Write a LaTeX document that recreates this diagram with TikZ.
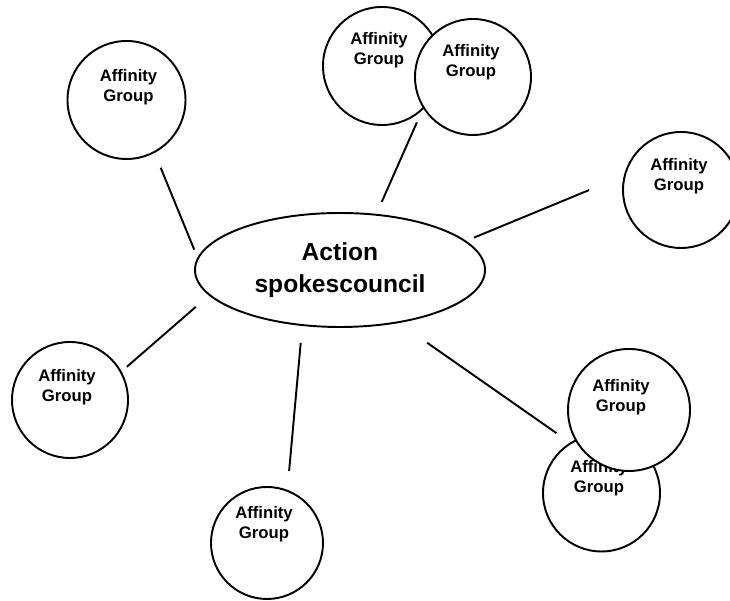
\documentclass[tikz,border=0pt]{standalone}
\usepackage{fontspec}
\setmainfont{Liberation Sans}
\usetikzlibrary{shapes.geometric}
\tikzset{
  council/.style={draw, ellipse, line width=1.1pt, minimum width=5.8cm, minimum height=2.28cm,
    align=center, font=\fontsize{14}{18}\selectfont\bfseries},
  affgroup/.style={draw, circle, fill=white, line width=1.1pt, minimum size=#1},
  affgroup/.default=2.34cm,
  grouptext/.style={align=center, font=\fontsize{9.5}{11.5}\selectfont\bfseries},
  spoke/.style={line width=1.1pt}
}
\begin{document}
\begin{tikzpicture}
				\clip (0,0) rectangle (14.6,12.02)
				;
				\node[council] (council) at (6.8,6.62) {Action\\spokescouncil}
				;
				% circles behind first, so g3 and g8 cover g2 and g7
				\foreach \n/\x/\y/\sz/\tx/\ty in {
					g1/2.53/10.02/2.36/2.57/10.28,
					g2/7.64/10.70/2.36/7.58/11.02,
					g3/9.46/10.48/2.32/9.42/10.77,
					g4/13.62/8.22/2.32/13.58/8.49,
					g5/1.40/4.02/2.32/1.34/4.28,
					g6/5.34/1.16/2.24/5.28/1.54,
					g7/12.03/2.16/2.34/11.98/2.46,
					g8/12.58/3.82/2.44/12.42/4.08}
				{
					\node[affgroup=\sz cm] (\n) at (\x,\y) {};
					\node[grouptext] (\n text) at (\tx,\ty) {Affinity\\Group};
				}
				;
				% spokes, free at both ends
				\draw[spoke, shorten <=0.17cm, shorten >=0.32cm] (council.175) -- (g1.298);
				\draw[spoke, shorten <=0.26cm, shorten >=0.26cm] (council.57) -- (g2.312);
				\draw[spoke, shorten <=0.17cm, shorten >=0.75cm] (council.13) -- (g4.166);
				\draw[spoke, shorten <=0.35cm, shorten >=0.14cm] (council.191) -- (g5.29);
				\draw[spoke, shorten <=0.34cm, shorten >=0.38cm] (council.236) -- (g6.69);
				\draw[spoke, shorten <=0.69cm, shorten >=0.33cm] (council.318) -- (g7.122);
		\end{tikzpicture}
\end{document}
